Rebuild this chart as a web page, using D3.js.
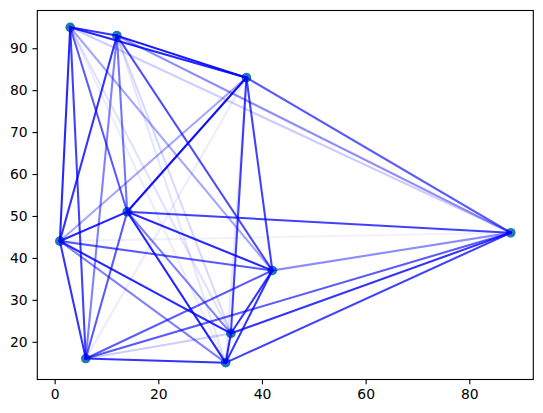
<!DOCTYPE html>
<html>
<head>
<meta charset="utf-8">
<script src="https://cdn.jsdelivr.net/npm/d3@7"></script>
<style>
  html, body { margin: 0; padding: 0; background: #fff; }
  svg { display: block; }
  text { font-family: "DejaVu Sans", sans-serif; font-size: 13.9px; fill: #000; }
</style>
</head>
<body>
<svg id="chart" width="543" height="413"></svg>
<script>
// Points
const names = ["A", "B", "C", "D", "E", "F", "G", "H", "I", "J"];
const xs = [3, 12, 37, 14, 1, 88, 42, 34, 33, 6];
const ys = [95, 93, 83, 51, 44, 46, 37, 22, 15, 16];

// Edge list: [from, to, alpha]
const edgeFrom = ["A","A","A","A","A","A","A","A","A",
                  "B","B","B","B","B","B","B","B",
                  "C","C","C","C","C","C","C",
                  "D","D","D","D","D","D",
                  "E","E","E","E","E",
                  "F","F","F","F",
                  "G","G","G",
                  "H","H",
                  "I"];
const edgeTo   = ["B","C","D","E","F","G","H","I","J",
                  "C","D","E","F","G","H","I","J",
                  "D","E","F","G","H","I","J",
                  "E","F","G","H","I","J",
                  "F","G","H","I","J",
                  "G","H","I","J",
                  "H","I","J",
                  "I","J",
                  "J"];
const edgeAlpha = [0.8, 0.85, 0.65, 0.85, 0.2, 0.35, 0.12, 0.08, 0.75,
                   0.9, 0.55, 0.8, 0.45, 0.7, 0.15, 0.1, 0.5,
                   0.95, 0.35, 0.65, 0.75, 0.75, 0.1, 0.08,
                   0.85, 0.75, 0.85, 0.5, 0.85, 0.65,
                   0.06, 0.65, 0.85, 0.5, 0.8,
                   0.45, 0.8, 0.75, 0.65,
                   0.8, 0.8, 0.65,
                   0.85, 0.2,
                   0.8];

const xTicks = [0, 20, 40, 60, 80];
const yTicks = [20, 30, 40, 50, 60, 70, 80, 90];

const L = 37.3, R = 533.3, T = 10.5, B = 379.5;
const svg = d3.select("#chart");

const xmin = d3.min(xs), xmax = d3.max(xs), ymin = d3.min(ys), ymax = d3.max(ys);
const xpad = (xmax - xmin) * 0.05, ypad = (ymax - ymin) * 0.05;
const x = d3.scaleLinear().domain([xmin - xpad, xmax + xpad]).range([L, R]);
const y = d3.scaleLinear().domain([ymin - ypad, ymax + ypad]).range([B, T]);

const idx = Object.fromEntries(names.map((n, i) => [n, i]));
const pts = names.map((n, i) => ({ n, x: xs[i], y: ys[i] }));
const edges = edgeFrom.map((f, i) => ({ a: pts[idx[f]], b: pts[idx[edgeTo[i]]], alpha: edgeAlpha[i] }));

const plot = svg.append("g");
plot.selectAll("circle").data(pts).enter().append("circle")
  .attr("cx", d => x(d.x)).attr("cy", d => y(d.y)).attr("r", 4.8)
  .attr("fill", "#1f77b4");

plot.selectAll("line.edge").data(edges).enter().append("line")
  .attr("class", "edge")
  .attr("x1", d => x(d.a.x)).attr("y1", d => y(d.a.y))
  .attr("x2", d => x(d.b.x)).attr("y2", d => y(d.b.y))
  .attr("stroke", "#0000ff").attr("stroke-width", 2.08)
  .attr("stroke-opacity", d => d.alpha)
  .attr("stroke-linecap", "square");

// Axes
const xAxis = d3.axisBottom(x).tickValues(xTicks).tickSize(4.86).tickPadding(4.86).tickFormat(d3.format("d"));
const yAxis = d3.axisLeft(y).tickValues(yTicks).tickSize(4.86).tickPadding(4.86).tickFormat(d3.format("d"));

const gx = svg.append("g").attr("transform", `translate(0,${B})`).call(xAxis);
const gy = svg.append("g").attr("transform", `translate(${L},0)`).call(yAxis);
[gx, gy].forEach(g => {
  g.select(".domain").remove();
  g.selectAll(".tick line").attr("stroke", "#000").attr("stroke-width", 1.1);
  g.selectAll(".tick text").attr("font-family", "DejaVu Sans").attr("font-size", "13.9px").attr("fill", "#000");
});

svg.append("rect").attr("x", L).attr("y", T).attr("width", R - L).attr("height", B - T)
  .attr("fill", "none").attr("stroke", "#000").attr("stroke-width", 1.1);
</script>
</body>
</html>
